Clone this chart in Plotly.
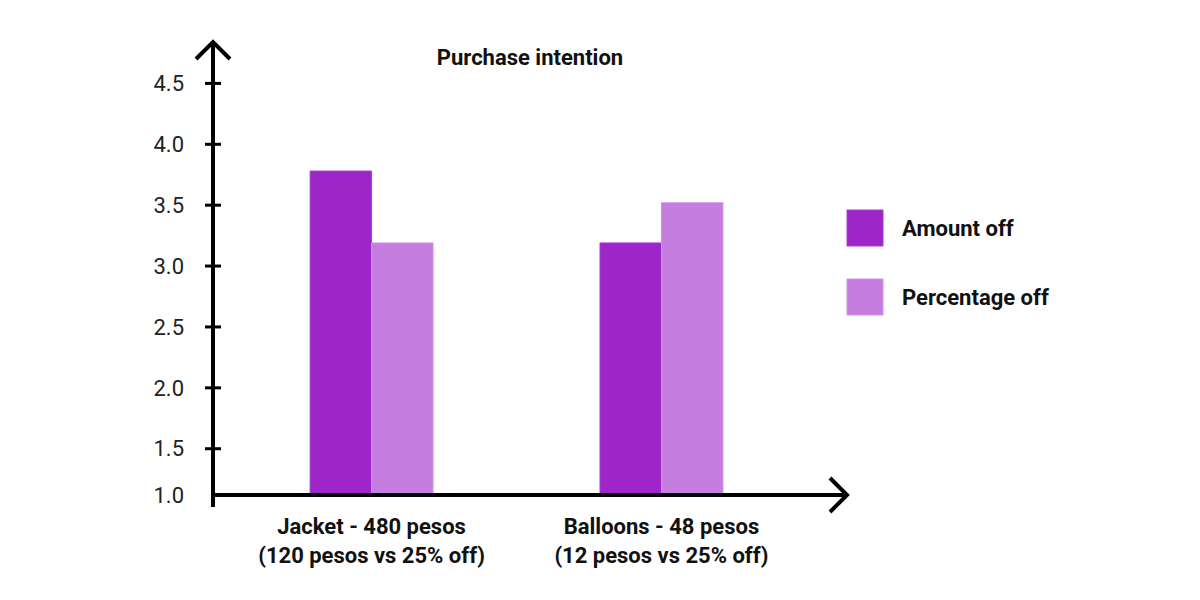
import plotly.graph_objects as go

# data
categories = ["Jacket - 480 pesos<br>(120 pesos vs 25% off)",
              "Balloons - 48 pesos<br>(12 pesos vs 25% off)"]
amount_off = [3.78, 3.19]
percentage_off = [3.19, 3.52]
series_names = ["Amount off", "Percentage off"]
y_tick_labels = ["1.0", "1.5", "2.0", "2.5", "3.0", "3.5", "4.0", "4.5"]

colors = ["#9E25C8", "#C57EE0"]
edge_colors = ["#A93BD2", "#CE90E6"]

# page adds an 8px body margin, so work in reference pixels minus OFF
OFF = 8
W, H = 1192, 592
L, R, T, B = 213 - OFF, 847 - OFF, 42 - OFF, 495 - OFF
Y_MIN, Y_MAX = 1.12, 4.84   # axis is broken: baseline is labelled 1.0


def px(x):
    return (x - OFF - L) / (R - L)


def py(y):
    return (B - (y - OFF)) / (B - T)


fig = go.Figure()
for name, vals, c, ec in zip(series_names, [amount_off, percentage_off], colors, edge_colors):
    fig.add_trace(go.Bar(
        x=categories, y=[v - Y_MIN for v in vals], base=Y_MIN, name=name,
        marker=dict(color=c, line=dict(color=ec, width=1)),
        hovertemplate="%{x}<br>" + name + ": %{customdata}<extra></extra>",
        customdata=vals,
    ))

tick_vals = [Y_MIN] + [float(t) for t in y_tick_labels[1:]]

shapes = []
axis_line = dict(color="black", width=4)
# y axis and x axis lines
shapes.append(dict(type="line", xref="paper", yref="paper",
                   x0=px(213), x1=px(213), y0=py(507), y1=py(42), line=axis_line))
shapes.append(dict(type="line", xref="paper", yref="paper",
                   x0=px(211), x1=px(847), y0=py(495), y1=py(495), line=axis_line))
# arrow heads
shapes.append(dict(type="path", xref="paper", yref="paper", line=axis_line,
                   path=f"M {px(196)} {py(59)} L {px(213)} {py(42)} L {px(230)} {py(59)}"))
shapes.append(dict(type="path", xref="paper", yref="paper", line=axis_line,
                   path=f"M {px(830)} {py(478)} L {px(847)} {py(495)} L {px(830)} {py(512)}"))
# tick marks crossing the y axis
for v in tick_vals[1:]:
    shapes.append(dict(type="line", xref="paper", yref="y",
                       x0=px(205), x1=px(221), y0=v, y1=v,
                       line=dict(color="black", width=3)))

# custom legend with big squares
annotations = []
for i, (name, c, ec) in enumerate(zip(series_names, colors, edge_colors)):
    top = 210 + i * 69
    shapes.append(dict(type="rect", xref="paper", yref="paper",
                       x0=px(847), x1=px(883), y0=py(top + 36), y1=py(top),
                       fillcolor=c, line=dict(color=ec, width=1)))
    annotations.append(dict(xref="paper", yref="paper", x=px(900), y=py(top + 18),
                            text=name, showarrow=False, xanchor="left", yanchor="middle",
                            font=dict(family="Roboto", size=22, color="#111111", weight="bold")))

fig.update_layout(
    width=W, height=H,
    margin=dict(l=L, r=W - R, t=T, b=H - B),
    paper_bgcolor="white", plot_bgcolor="white",
    barmode="group", bargap=0.576, bargroupgap=0,
    showlegend=False,
    title=dict(text="Purchase intention", x=0.5, xref="paper", xanchor="center",
               y=1 - (57 - OFF) / H, yanchor="middle",
               font=dict(family="Roboto", size=22, color="#111111", weight="bold")),
    font=dict(family="Roboto", color="#222222"),
    xaxis=dict(range=[-0.547, 1.64], showgrid=False, zeroline=False, showline=False,
               ticks="", ticklabelstandoff=16,
               tickfont=dict(family="Roboto", size=22, color="#111111", weight="bold")),
    yaxis=dict(range=[Y_MIN, Y_MAX], showgrid=False, zeroline=False, showline=False,
               tickvals=tick_vals, ticktext=y_tick_labels, ticks="",
               ticklabelstandoff=28,
               tickfont=dict(family="Roboto", size=22, color="#222222")),
    shapes=shapes,
    annotations=annotations,
)

fig.write_html("out.html")
